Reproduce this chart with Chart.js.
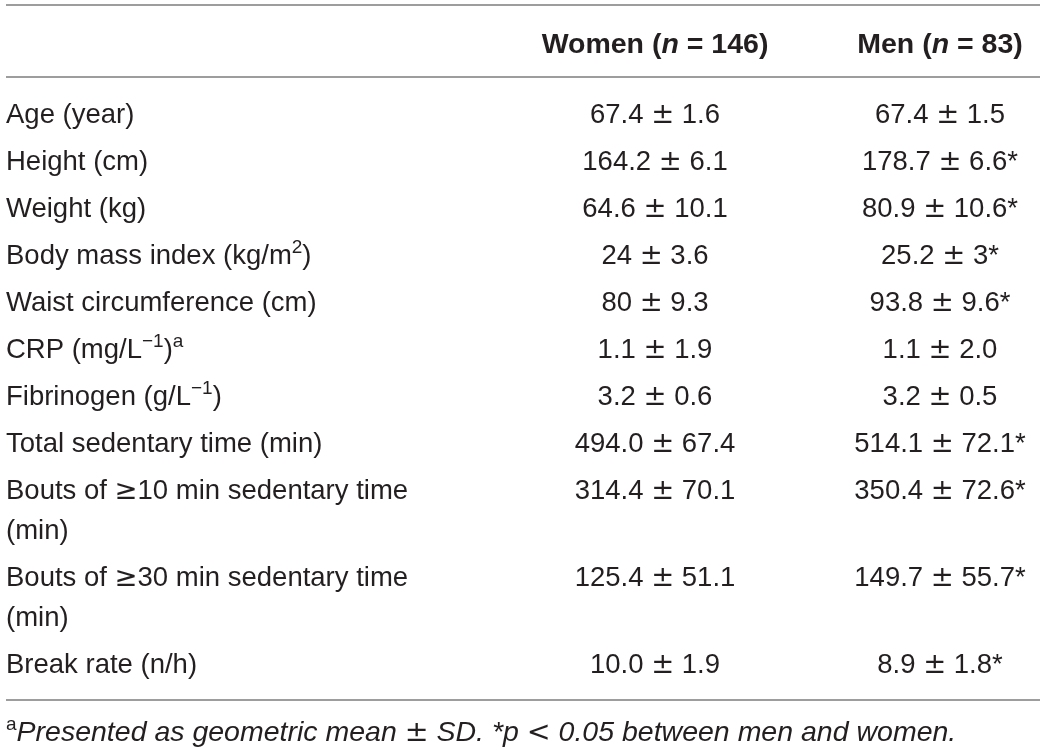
<!DOCTYPE html>
<html>
<head>
<meta charset="utf-8">
<script src="https://cdn.jsdelivr.net/npm/chart.js@4.4.1/dist/chart.umd.min.js"></script>
<style>
    html, body { margin: 0; padding: 0; background: #fff; }
</style>
</head>
<body>
<canvas id="sample-table" width="1040" height="750"></canvas>
<script>
// label cells, one entry per line; ^{..} = superscript, _{..} = italic
const rowLabels = [
    ['Age (year)'],
    ['Height (cm)'],
    ['Weight (kg)'],
    ['Body mass index (kg/m^{2})'],
    ['Waist circumference (cm)'],
    ['CRP (mg/L^{−1})^{a}'],
    ['Fibrinogen (g/L^{−1})'],
    ['Total sedentary time (min)'],
    ['Bouts of ≥10 min sedentary time', '(min)'],
    ['Bouts of ≥30 min sedentary time', '(min)'],
    ['Break rate (n/h)']
];
const columnHeaders = ['Women (_{n} = 146)', 'Men (_{n} = 83)'];
const womenValues = ['67.4 ± 1.6', '164.2 ± 6.1', '64.6 ± 10.1', '24 ± 3.6', '80 ± 9.3', '1.1 ± 1.9',
                     '3.2 ± 0.6', '494.0 ± 67.4', '314.4 ± 70.1', '125.4 ± 51.1', '10.0 ± 1.9'];
const menValues = ['67.4 ± 1.5', '178.7 ± 6.6*', '80.9 ± 10.6*', '25.2 ± 3*', '93.8 ± 9.6*', '1.1 ± 2.0',
                   '3.2 ± 0.5', '514.1 ± 72.1*', '350.4 ± 72.6*', '149.7 ± 55.7*', '8.9 ± 1.8*'];
const footnote = '^{a}Presented as geometric mean ± SD. *p < 0.05 between men and women.';

const TEXT_COLOR = '#231f20';
const RULE_COLOR = '#9d9d9d';
const FONT_SIZE = 27.5;
const LINE_GAP = 0.85;  // second line inside a cell, in row units

// vertical position of each row (row units), multi-line cells take more room
let rowPos = [];
let pos = 0;
rowLabels.forEach(lines => {
    rowPos.push(pos);
    pos += (lines.length - 1) * LINE_GAP + 1;
});
const lastRow = rowPos[rowPos.length - 1];

function parseRich(str) {
    let out = [];
    str.split(/(\^\{[^}]*\}|_\{[^}]*\})/).filter(s => s.length).forEach(s => {
        if (s.startsWith('^{')) { out.push({ text: s.slice(2, -1), sup: true }); return; }
        if (s.startsWith('_{')) { out.push({ text: s.slice(2, -1), italic: true }); return; }
        // math symbols get the wider DejaVu glyphs
        s.split(/([±≥<])/).filter(t => t.length).forEach(t => {
            out.push(/^[±≥<]$/.test(t) ? { text: t, sym: true } : { text: t });
        });
    });
    return out;
}

function drawRich(ctx, str, x, yMid, align, opts) {
    opts = opts || {};
    let size = opts.size || FONT_SIZE;
    let weight = opts.bold ? 'bold' : 'normal';
    let parts = parseRich(str);
    let fontFor = p => {
        let it = (p.italic || (opts.italic && !p.sup)) ? 'italic ' : '';
        let sz = p.sup ? Math.round(size * 0.68) : size;
        let fam = p.sym ? '"DejaVu Sans", sans-serif' : '"Liberation Sans", Arial, sans-serif';
        return it + weight + ' ' + sz + 'px ' + fam;
    };
    let total = 0;
    parts.forEach(p => {
        ctx.font = fontFor(p);
        p.w = ctx.measureText(p.text).width;
        total += p.w;
    });
    let cx = align === 'center' ? x - total / 2 : x;
    let base = yMid + size * 0.36;
    ctx.textAlign = 'left';
    ctx.textBaseline = 'alphabetic';
    ctx.fillStyle = TEXT_COLOR;
    parts.forEach(p => {
        ctx.font = fontFor(p);
        ctx.fillText(p.text, cx, p.sup ? base - size * 0.4 : base);
        cx += p.w;
    });
}

const tablePlugin = {
    id: 'tableText',
    afterDatasetsDraw(chart) {
        let ctx = chart.ctx;
        let xs = chart.scales.x;
        let ys = chart.scales.y;
        ctx.save();

        // horizontal rules
        ctx.strokeStyle = RULE_COLOR;
        ctx.lineWidth = 2;
        [rowPos[0] - 2.3, rowPos[0] - 0.77, lastRow + 0.79].forEach(v => {
            let py = Math.round(ys.getPixelForValue(v));
            ctx.beginPath();
            ctx.moveTo(6, py);
            ctx.lineTo(chart.width, py);
            ctx.stroke();
        });

        // column headers
        columnHeaders.forEach((h, i) => {
            drawRich(ctx, h, xs.getPixelForValue(i), ys.getPixelForValue(rowPos[0] - 1.49), 'center',
                     { bold: true, size: 28.5 });
        });

        // row labels
        rowLabels.forEach((lines, i) => {
            lines.forEach((line, j) => {
                drawRich(ctx, line, 6, ys.getPixelForValue(rowPos[i] + j * LINE_GAP), 'left');
            });
        });

        // values, placed on the dataset points
        chart.data.datasets.forEach((ds, di) => {
            let meta = chart.getDatasetMeta(di);
            meta.data.forEach((pt, i) => {
                drawRich(ctx, ds.texts[i], pt.x, pt.y, 'center');
            });
        });

        // footnote
        drawRich(ctx, footnote, 6, ys.getPixelForValue(lastRow + 1.45), 'left', { italic: true, size: 28.5 });

        ctx.restore();
    }
};

var ctx = document.getElementById('sample-table');
var data = {
    datasets: [{
        label: 'Women',
        texts: womenValues,
        data: womenValues.map((v, i) => ({ x: 0, y: rowPos[i] })),
        pointRadius: 0
    }, {
        label: 'Men',
        texts: menValues,
        data: menValues.map((v, i) => ({ x: 1, y: rowPos[i] })),
        pointRadius: 0
    }]
};

var options = {
    responsive: false,
    animation: false,
    events: [],
    layout: { padding: { left: 655, right: 100, top: 0, bottom: 0 } },
    scales: {
        x: { type: 'linear', min: 0, max: 1, display: false },
        y: { type: 'linear', reverse: true, min: -2.404, max: 13.553, display: false }
    },
    plugins: {
        legend: { display: false },
        tooltip: { enabled: false }
    }
};

var tableChart = new Chart(ctx, {
    type: 'scatter',
    data: data,
    options: options,
    plugins: [tablePlugin]
});
</script>
</body>
</html>
